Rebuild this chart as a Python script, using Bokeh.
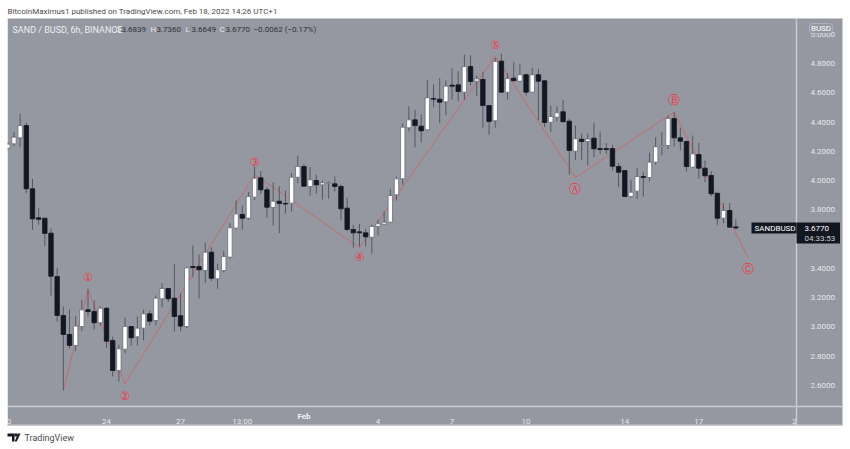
from bokeh.plotting import figure, ColumnDataSource
from bokeh.models import (Range1d, FixedTicker, NumeralTickFormatter, Label, BoxAnnotation,
                          PolyAnnotation, LinearAxis)
from bokeh.core.properties import value
from bokeh.embed import file_html
from bokeh.resources import INLINE

opens = [4.221,4.251,4.292,4.376,3.944,3.746,3.743,3.641,3.345,3.079,2.949,2.874,3.003,3.117,3.106,3.029,3.128,2.908,2.703,2.848,
 3.003,2.933,2.992,3.090,3.044,3.193,3.263,3.197,3.077,3.003,3.413,3.413,3.386,3.511,3.329,3.386,3.477,3.675,3.769,3.743,
 3.887,4.019,3.937,3.816,3.859,3.844,3.846,4.023,4.096,3.960,4.001,3.971,3.980,3.978,3.960,3.812,3.666,3.650,3.643,3.613,
 3.687,3.702,3.716,3.903,4.012,4.361,4.415,4.372,4.347,4.561,4.556,4.538,4.652,4.654,4.604,4.779,4.679,4.691,4.513,4.409,
 4.816,4.604,4.700,4.679,4.723,4.604,4.723,4.682,4.399,4.433,4.470,4.406,4.201,4.283,4.267,4.290,4.219,4.219,4.219,4.096,
 4.069,3.891,3.928,4.028,4.021,4.126,4.231,4.240,4.424,4.292,4.267,4.092,4.178,4.085,4.035,3.914,3.743,3.796,3.6839]
highs = [4.262,4.331,4.456,4.395,4.012,3.811,3.743,3.673,3.404,3.140,3.120,3.072,3.186,3.261,3.181,3.140,3.135,2.935,2.878,3.063,
 3.003,3.072,3.117,3.113,3.215,3.299,3.263,3.432,3.229,3.413,3.557,3.495,3.579,3.545,3.432,3.518,3.709,3.864,3.830,3.921,
 4.096,4.064,3.955,3.987,3.962,3.932,4.051,4.171,4.115,4.092,4.040,4.001,3.994,4.028,3.973,3.883,3.698,3.705,3.671,3.698,
 3.732,3.791,3.944,4.028,4.392,4.508,4.484,4.452,4.689,4.657,4.700,4.684,4.766,4.747,4.861,4.855,4.718,4.741,4.513,4.839,
 4.866,4.734,4.809,4.798,4.732,4.771,4.764,4.689,4.513,4.506,4.552,4.422,4.376,4.320,4.322,4.395,4.335,4.256,4.245,4.119,
 4.069,4.006,4.085,4.062,4.190,4.297,4.331,4.445,4.467,4.361,4.274,4.308,4.256,4.137,4.064,3.914,3.846,3.846,3.7360]
lows = [4.212,4.235,4.228,3.914,3.664,3.700,3.552,3.215,3.038,2.566,2.853,2.835,2.971,3.072,2.983,3.010,2.858,2.662,2.628,2.821,
 2.874,2.874,2.908,3.010,3.010,3.135,3.169,2.969,2.971,2.992,3.340,3.195,3.299,3.313,3.261,3.374,3.466,3.664,3.664,3.732,
 3.869,3.910,3.746,3.691,3.641,3.773,3.789,3.982,3.960,3.898,3.910,3.871,3.876,3.926,3.728,3.654,3.541,3.550,3.550,3.500,
 3.625,3.700,3.709,3.864,3.971,4.337,4.228,4.262,4.342,4.501,4.392,4.445,4.552,4.542,4.552,4.650,4.577,4.358,4.313,4.361,
 4.602,4.554,4.679,4.672,4.581,4.600,4.411,4.365,4.331,4.406,4.402,4.042,4.142,4.142,4.103,4.160,4.183,4.183,4.069,3.955,
 3.891,3.883,3.876,3.891,3.994,4.110,4.172,4.215,4.233,4.206,4.062,4.085,4.012,3.989,3.893,3.698,3.709,3.682,3.6649]
closes = [4.249,4.297,4.376,3.944,3.739,3.736,3.639,3.347,3.079,2.949,2.874,3.006,3.117,3.106,3.029,3.128,2.903,2.703,2.851,3.003,
 2.926,2.992,3.090,3.040,3.197,3.263,3.193,3.072,3.006,3.404,3.406,3.391,3.511,3.333,3.391,3.482,3.678,3.773,3.743,3.891,
 4.016,3.937,3.818,3.859,3.844,3.840,4.023,4.096,3.962,4.006,3.971,3.985,3.987,3.960,3.807,3.666,3.643,3.643,3.616,3.687,
 3.705,3.716,3.898,4.012,4.365,4.415,4.376,4.340,4.566,4.556,4.536,4.645,4.645,4.609,4.779,4.677,4.695,4.513,4.404,4.814,
 4.604,4.697,4.682,4.723,4.604,4.723,4.679,4.397,4.438,4.463,4.402,4.206,4.286,4.267,4.284,4.217,4.212,4.212,4.098,4.057,
 3.891,3.921,4.028,4.021,4.126,4.231,4.240,4.424,4.292,4.269,4.096,4.183,4.085,4.033,3.910,3.743,3.796,3.682,3.6770]

wave_idx = [9, 13, 19, 40, 57, 79, 92, 108, 120]
wave_price = [2.566, 3.256, 2.612, 4.042, 3.541, 4.848, 4.023, 4.467, 3.473]

mark_text = ["①", "②", "③", "④", "⑤", "Ⓐ", "Ⓑ", "Ⓒ"]
mark_idx = [13, 19, 40, 57, 79, 92, 108, 120]
mark_price = [3.340, 2.532, 4.126, 3.477, 4.928, 3.946, 4.554, 3.398]

price_ticks = [2.6, 2.8, 3.0, 3.2, 3.4, 3.6, 3.8, 4.0, 4.2, 4.4, 4.6, 4.8, 5.0]
time_ticks = [0.2, 16, 28, 38, 60, 72, 84, 100, 112, 127.5]
time_labels = ["0", "24", "27", "13:00", "4", "7", "10", "14", "17", "2"]
month_idx = 48
month_label = "Feb"

GRAY = "#9598a1"
LIGHT = "#c9cbd1"
DARK = "#131722"
TXT = "#e6e7ea"
FONT = "Roboto"

idx = list(range(len(opens)))
up = [c >= o for o, c in zip(opens, closes)]
src = ColumnDataSource(dict(
    x=idx, high=highs, low=lows,
    top=[max(o, c) for o, c in zip(opens, closes)],
    bottom=[min(o, c) for o, c in zip(opens, closes)],
    fill=["#ffffff" if u else DARK for u in up],
    edge=["#6a6d78" if u else DARK for u in up],
))

p = figure(width=850, height=449, output_backend="svg", toolbar_location=None,
           x_range=Range1d(-1.183, 136.58), y_range=Range1d(2.1632, 5.2303),
           x_axis_type=None, y_axis_type=None,
           min_border_left=0, min_border_right=0, min_border_top=0, min_border_bottom=0,
           background_fill_color="#ffffff", border_fill_color="#ffffff", outline_line_color=None)
p.grid.visible = False

xax = LinearAxis(fixed_location=2.457, bounds=(-0.05, 135.3),
                 ticker=FixedTicker(ticks=time_ticks),
                 major_label_overrides=dict(zip(time_ticks, time_labels)), major_label_standoff=5)
yax = LinearAxis(fixed_location=127.83, bounds=(2.327, 5.107),
                 ticker=FixedTicker(ticks=price_ticks),
                 formatter=NumeralTickFormatter(format="0.0000"), major_label_standoff=8)
for ax in (xax, yax):
    ax.axis_line_color = LIGHT
    ax.axis_line_width = 1.5
    ax.major_tick_line_color = None
    ax.minor_tick_line_color = None
    ax.major_label_text_color = TXT
    ax.major_label_text_font = FONT
    ax.major_label_text_font_size = "8px"
p.add_layout(xax, "below")
p.add_layout(yax, "right")


def box(l, t, r, b, color, level="overlay", line=None, radius=0):
    p.add_layout(BoxAnnotation(left=l, right=r, top=t, bottom=b, left_units="canvas", right_units="canvas",
                               top_units="canvas", bottom_units="canvas", fill_color=color, fill_alpha=1,
                               line_color=line, level=level, border_radius=radius))


def lab(x, y, s, color, size="8px", style="normal", font=FONT, align="left", x_units="canvas"):
    p.add_layout(Label(x=x, y=y, text=s, x_units=x_units, y_units="canvas", text_color=color,
                       text_font=font, text_font_size=size, text_font_style=style, text_align=align,
                       text_baseline="middle", level="overlay"))


# chart pane
box(7, 18, 842, 425, GRAY, level="underlay")

p.line(wave_idx, wave_price, line_color="#e0504e", line_alpha=0.6, line_width=1)
p.segment("x", "high", "x", "low", source=src, line_color="#55585f", line_width=1)
p.vbar("x", 0.72, "top", "bottom", source=src, fill_color="fill", line_color="edge", line_width=0.8)
p.text(mark_idx, mark_price, text=mark_text, text_color="#f23645", text_font=value("DejaVu Sans"),
       text_font_size="11.5px", text_align="center", text_baseline="middle")

# left edge of the pane and pane bottom edge
box(0, 18, 7, 425, "#ffffff")
box(7, 424, 842, 425.5, LIGHT)

# header and legend
lab(7, 10.5, "BitcoinMaximus1 published on TradingView.com, Feb 18, 2022 14:26 UTC+1", "#4a4a4a", size="8px")
lab(12, 29, "SAND / BUSD, 6h, BINANCE", "#eceef0", size="9px")
legend_items = [(115, "O", "3.6839"), (150, "H", "3.7360"), (185, "L", "3.6649"), (219, "C", "3.6770")]
for x0, a, b in legend_items:
    lab(x0, 29, a, "#e6e7ea")
    lab(x0 + 6, 29, b, "#2f323a")
lab(253, 29, "−0.0062 (−0.17%)", "#2f323a")

# price tags
box(751, 222, 796, 233, DARK)
box(796, 222, 839.5, 243, DARK)
lab(754, 227.5, "SANDBUSD", "#ffffff")
lab(804, 227.5, "3.6770", "#ffffff")
lab(804, 238, "04:33:53", "#c9cbd1")

# currency badge
box(809, 23, 832, 33, GRAY, line="#e6e7ea", radius=3)
lab(820.5, 28, "BUSD", "#ffffff", align="center")

# month label
lab(month_idx, 416, month_label, "#f2f3f5", style="bold", x_units="data", align="center")

# footer logo
for xs, ys in [([7, 14, 14, 11.5, 11.5, 7], [433, 433, 441, 441, 436, 436]),
               ([14, 17, 17, 14], [433, 433, 436, 436]),
               ([16.2, 20, 17.5, 14.2], [441, 433, 433, 441])]:
    p.add_layout(PolyAnnotation(xs=xs, ys=ys, xs_units="canvas", ys_units="canvas",
                                fill_color="#131722", fill_alpha=1, line_color=None, level="overlay"))
lab(24, 437, "TradingView", "#4a4a4a", size="9px")

open("out.html", "w").write(file_html(p, INLINE))
